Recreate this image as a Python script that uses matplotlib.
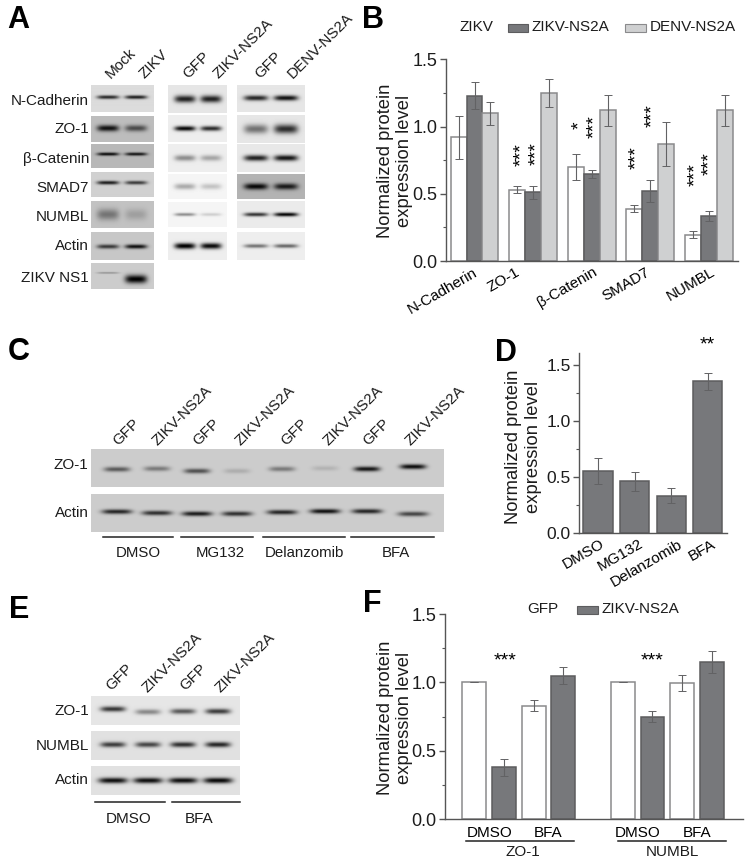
"""
Six panel figure: western blots (A, C, E) and normalized protein bar charts (B, D, F).
"""

import numpy as np
import matplotlib
matplotlib.use('Agg')
import matplotlib.pyplot as plt
from matplotlib.lines import Line2D
from matplotlib.patches import Rectangle
from matplotlib.ticker import MultipleLocator

W, H = 751, 865

plt.rcParams['font.family'] = ['Liberation Sans', 'DejaVu Sans']

DARK = '#77787b'
LIGHT = '#cfd0d1'
EDGE = '#5c5c5e'
EDGE_SOFT = '#8a8a8c'
TEXT = '#1c1c1c'

# Panel B
B_PROTEINS = ['N-Cadherin', 'ZO-1', '\u03b2-Catenin', 'SMAD7', 'NUMBL']
B_ZIKV = [0.92, 0.53, 0.70, 0.39, 0.195]
B_ZIKV_ERR = [0.16, 0.025, 0.095, 0.025, 0.025]
B_ZNS2A = [1.23, 0.51, 0.645, 0.52, 0.335]
B_ZNS2A_ERR = [0.10, 0.05, 0.03, 0.08, 0.035]
B_DNS2A = [1.10, 1.25, 1.12, 0.87, 1.12]
B_DNS2A_ERR = [0.085, 0.105, 0.115, 0.16, 0.115]

# Panel D
D_LABELS = ['DMSO', 'MG132', 'Delanzomib', 'BFA']
D_VALUES = [0.55, 0.46, 0.33, 1.35]
D_ERR = [0.115, 0.085, 0.065, 0.075]

# Panel F
F_LABELS = ['DMSO', 'BFA', 'DMSO', 'BFA']
F_GFP = [1.0, 0.83, 1.0, 0.995]
F_GFP_ERR = [0, 0.04, 0, 0.06]
F_NS2A = [0.38, 1.05, 0.75, 1.15]
F_NS2A_ERR = [0.06, 0.065, 0.04, 0.08]

# Blot band strengths (0 = none, 1 = black), one row per antibody
A_LABELS = ['N-Cadherin', 'ZO-1', '\u03b2-Catenin', 'SMAD7', 'NUMBL', 'Actin', 'ZIKV NS1']
A1_BG = [0.86, 0.74, 0.72, 0.82, 0.76, 0.78, 0.80]
A1_BANDS = [[0.85, 0.9], [0.9, 0.6], [0.9, 0.85], [0.9, 0.75], [0.4, 0.18], [0.7, 0.9], [0.25, 1.0]]
A1_THICK = [1.7, 3.2, 1.7, 1.7, 5.5, 2.2, [1.0, 4.2]]
A1_BAND_Y = [0.47, 0.47, 0.42, 0.45, 0.5, 0.52, [0.38, 0.62]]
A2_BG = [0.90, 0.93, 0.93, 0.96, 0.96, 0.93]
A2_BANDS = [[0.85, 0.85], [0.95, 0.8], [0.4, 0.3], [0.3, 0.2], [0.4, 0.15], [1.0, 0.95]]
A2_THICK = [3.6, 2.5, 3.0, 3.0, 1.7, 3.0]
A3_BG = [0.90, 0.90, 0.91, 0.70, 0.92, 0.93]
A3_BANDS = [[0.85, 0.95], [0.5, 0.8], [0.85, 0.9], [0.95, 0.85], [0.75, 0.95], [0.5, 0.55]]
A3_THICK = [2.5, 4.6, 3.0, 3.2, 2.0, 2.0]

C_ZO1 = [0.55, 0.4, 0.6, 0.15, 0.4, 0.12, 0.88, 0.92]
C_ACTIN = [0.8, 0.75, 0.85, 0.75, 0.8, 0.9, 0.8, 0.65]

E_ZO1 = [0.75, 0.4, 0.6, 0.72]
E_NUMBL = [0.72, 0.68, 0.78, 0.82]
E_ACTIN = [0.92, 0.92, 0.92, 0.95]

fig = plt.figure(figsize=(W / 100, H / 100), dpi=100, facecolor='white')


def ax_px(x0, y0, x1, y1):
    return fig.add_axes([x0 / W, 1 - y1 / H, (x1 - x0) / W, (y1 - y0) / H])


def txt(x, y, s, size=11, **kw):
    kw.setdefault('ha', 'center')
    kw.setdefault('va', 'center')
    kw.setdefault('color', TEXT)
    fig.text(x / W, 1 - y / H, s, fontsize=size, **kw)


def hline(x0, x1, y, lw=1.1):
    fig.add_artist(Line2D([x0 / W, x1 / W], [1 - y / H, 1 - y / H],
                          transform=fig.transFigure, color='#222222', lw=lw))


def lane_label(x, y, s):
    txt(x, y, s, ha='left', va='center', rotation=45, rotation_mode='anchor')


def blot(x0, y0, x1, y1, bg, strengths, lanes, half, thick, band_y=0.5):
    w, h = int(x1 - x0), int(y1 - y0)
    xx, yy = np.meshgrid(np.arange(w) + 0.5, np.arange(h) + 0.5)
    img = np.full((h, w), float(bg))
    if np.isscalar(band_y):
        band_y = [band_y] * len(lanes)
    if np.isscalar(thick):
        thick = [thick] * len(lanes)
    for lane, s, by, th in zip(lanes, strengths, band_y, thick):
        dx = (xx - (lane - x0)) / half
        dy = (yy - by * h) / th
        img = img * (1 - s * np.exp(-dx ** 4) * np.exp(-dy ** 2))
    ax = ax_px(x0, y0, x1, y1)
    ax.imshow(img, cmap='gray', vmin=0, vmax=1, aspect='auto', interpolation='bilinear')
    ax.axis('off')


def style_axis(ax, tick_size=13):
    for side in ['top', 'right']:
        ax.spines[side].set_visible(False)
    for side in ['left', 'bottom']:
        ax.spines[side].set_color('#555555')
        ax.spines[side].set_linewidth(1.0)
    ax.yaxis.set_major_locator(MultipleLocator(0.5))
    ax.yaxis.set_minor_locator(MultipleLocator(0.25))
    ax.tick_params(axis='y', which='major', length=4, width=1, color='#555555',
                   labelsize=tick_size, pad=2, labelcolor=TEXT)
    ax.tick_params(axis='y', which='minor', length=2.5, width=0.8, color='#555555')
    ax.tick_params(axis='x', length=0)
    ax.patch.set_alpha(0)
    ax.yaxis.set_major_formatter(lambda v, pos: f'{v:.1f}')


ERR = dict(ecolor='#626264', elinewidth=0.8, capsize=3, capthick=0.7)

# ---- Panel A ----
txt(7, 20, 'A', size=22, fontweight='bold', ha='left', color='black')
for x, s in zip([108, 142, 185, 216, 257, 290],
                ['Mock', 'ZIKV', 'GFP', 'ZIKV-NS2A', 'GFP', 'DENV-NS2A']):
    lane_label(x, 76, s)

A1_Y = [(85, 112), (116, 142), (144, 168), (172, 197), (201, 228), (232, 260), (263, 289)]
A2_Y = [(85, 113), (115, 142), (144, 172), (174, 199), (202, 227), (232, 260)]
A3_Y = [(85, 112), (115, 143), (144, 172), (174, 199), (201, 228), (232, 260)]
for (y0, y1), bg, st, th, by in zip(A1_Y, A1_BG, A1_BANDS, A1_THICK, A1_BAND_Y):
    blot(91, y0, 154, y1, bg, st, [108, 136], 11, th, by)
for (y0, y1), bg, st, th in zip(A2_Y, A2_BG, A2_BANDS, A2_THICK):
    blot(168, y0, 227, y1, bg, st, [185, 211], 10.5, th, 0.5)
for (y0, y1), bg, st, th in zip(A3_Y, A3_BG, A3_BANDS, A3_THICK):
    blot(237, y0, 305, y1, bg, st, [256, 286], 12, th, 0.5)
for y, s in zip([101, 129, 159, 188, 217, 246, 278], A_LABELS):
    txt(89, y, s, ha='right')

# ---- Panel B ----
txt(362, 20, 'B', size=22, fontweight='bold', ha='left', color='black')
ax = ax_px(446, 59.3, 738, 261)
x = np.arange(5)
bw = 0.272
ax.bar(x - bw, B_ZIKV, bw, color='white', edgecolor=EDGE_SOFT, lw=1.1, yerr=B_ZIKV_ERR, error_kw=ERR)
ax.bar(x, B_ZNS2A, bw, color=DARK, edgecolor=EDGE, lw=1.1, yerr=B_ZNS2A_ERR, error_kw=ERR)
ax.bar(x + bw, B_DNS2A, bw, color=LIGHT, edgecolor=EDGE_SOFT, lw=1.1, yerr=B_DNS2A_ERR, error_kw=ERR)
ax.set_xlim(-0.487, 4.5)
ax.set_ylim(0, 1.5)
style_axis(ax)
# labels do not sit evenly under the groups in the original
ax.set_xticks(x + np.array([-1.5, -18, 0.5, -5, 1.5]) / 58.5)
ax.set_xticklabels(B_PROTEINS, rotation=30, ha='right', rotation_mode='anchor', fontsize=11)
ax.tick_params(axis='x', pad=3)

txt(395, 161, 'Normalized protein\nexpression level', size=13.2, rotation=90, linespacing=1.22)
txt(476, 27, 'ZIKV')
fig.add_artist(Rectangle((507.5 / W, 1 - 31.5 / H), 20 / W, 8 / H, transform=fig.transFigure,
                         facecolor=DARK, edgecolor=EDGE, lw=0.8))
txt(532, 27, 'ZIKV-NS2A', ha='left')
fig.add_artist(Rectangle((624.5 / W, 1 - 31.5 / H), 21 / W, 8 / H, transform=fig.transFigure,
                         facecolor=LIGHT, edgecolor=EDGE_SOFT, lw=0.8))
txt(650, 27, 'DENV-NS2A', ha='left')

for sx, sy, s in [(518, 155, '***'), (533, 154, '***'), (576, 125, '*'), (591, 127, '***'),
                  (633, 158, '***'), (649, 116, '***'), (692, 175, '***'), (706, 164, '***')]:
    txt(sx + 4, sy, s, size=14, rotation=90, color='black')

# ---- Panel C ----
txt(8, 352, 'C', size=22, fontweight='bold', ha='left', color='black')
C_LANES = [117, 157, 197, 237, 282, 325, 367, 413]
blot(91, 449, 444, 487, 0.80, C_ZO1, C_LANES, 13, 2.5,
     [0.534, 0.518, 0.58, 0.58, 0.526, 0.508, 0.526, 0.465])
blot(91, 494, 444, 532, 0.80, C_ACTIN, C_LANES, 15, 2.4,
     [0.465, 0.5, 0.52, 0.52, 0.48, 0.455, 0.455, 0.526])
txt(88, 465, 'ZO-1', ha='right')
txt(89, 513, 'Actin', ha='right')
for lx, ly, s in zip([115, 155, 195, 238, 283, 326, 365, 408],
                     [443, 443] * 4, ['GFP', 'ZIKV-NS2A'] * 4):
    lane_label(lx, ly, s)
for a, b in [(103, 173), (181, 253), (263, 345), (351, 434)]:
    hline(a, b, 536.7)
for cx, s in zip([138, 220, 304, 396], D_LABELS):
    txt(cx, 553, s, size=10.8)

# ---- Panel D ----
txt(495, 353, 'D', size=22, fontweight='bold', ha='left', color='black')
ax = ax_px(579.3, 353, 726.7, 532.7)
ax.bar(range(4), D_VALUES, 0.8, color=DARK, edgecolor=EDGE, lw=1.1, yerr=D_ERR, error_kw=ERR)
ax.set_xlim(-0.51, 3.516)
ax.set_ylim(0, 1.604)
style_axis(ax, tick_size=12.5)
ax.set_xticks(np.arange(4) + np.array([2, 4, 7, 3]) / 36.6)
ax.set_xticklabels(D_LABELS, rotation=30, ha='right', rotation_mode='anchor', fontsize=11)
ax.tick_params(axis='x', pad=3)
txt(523.5, 447, 'Normalized protein\nexpression level', size=13.2, rotation=90, linespacing=1.22)
txt(707, 345, '**', size=14, color='black')

# ---- Panel E ----
txt(9, 610, 'E', size=22, fontweight='bold', ha='left', color='black')
E_LANES = [113, 148, 183, 218]
blot(91, 696, 240, 725, 0.90, E_ZO1, E_LANES, 12.5, 2.7, [0.45, 0.55, 0.53, 0.53])
blot(91, 731, 240, 760, 0.88, E_NUMBL, E_LANES, 12.5, 2.7, 0.47)
blot(91, 766, 240, 795, 0.88, E_ACTIN, E_LANES, 14.5, 2.9, 0.5)
for y, s in zip([711, 746, 780], ['ZO-1', 'NUMBL', 'Actin']):
    txt(89, y, s, ha='right')
for lx, ly, s in zip([108, 145, 182, 218], [688, 690, 688, 690], ['GFP', 'ZIKV-NS2A'] * 2):
    lane_label(lx, ly, s)
hline(95, 164.5, 802)
hline(171.5, 239.5, 802)
txt(129, 819, 'DMSO', size=11)
txt(199, 819, 'BFA', size=11)

# ---- Panel F ----
txt(363, 604, 'F', size=22, fontweight='bold', ha='left', color='black')
ax = ax_px(444.7, 614, 742.7, 819.3)
fx_gfp = [0, 2, 5, 7]
fx_ns2a = [1, 3, 6, 8]
ax.bar(fx_gfp, F_GFP, 0.8, color='white', edgecolor=EDGE_SOFT, lw=1.1, yerr=F_GFP_ERR, error_kw=ERR)
ax.bar(fx_ns2a, F_NS2A, 0.8, color=DARK, edgecolor=EDGE, lw=1.1, yerr=F_NS2A_ERR, error_kw=ERR)
ax.set_xlim(-0.997, 9.04)
ax.set_ylim(0, 1.5)
style_axis(ax)
ax.set_xticks([0.5, 2.5, 5.5, 7.5])
ax.set_xticklabels(F_LABELS, fontsize=11)
ax.tick_params(axis='x', pad=5)
txt(395, 718, 'Normalized protein\nexpression level', size=13.2, rotation=90, linespacing=1.22)
txt(543, 609, 'GFP')
fig.add_artist(Rectangle((576.5 / W, 1 - 613.5 / H), 21 / W, 8 / H, transform=fig.transFigure,
                         facecolor=DARK, edgecolor=EDGE, lw=0.8))
txt(601, 609, 'ZIKV-NS2A', ha='left')
txt(505, 661, '***', size=14, color='black')
txt(652, 661, '***', size=14, color='black')
hline(465.5, 573.5, 841)
hline(617.5, 725.5, 841)
txt(523, 852, 'ZO-1')
txt(672, 852, 'NUMBL')

fig.savefig('out.png', dpi=100, facecolor='white')
